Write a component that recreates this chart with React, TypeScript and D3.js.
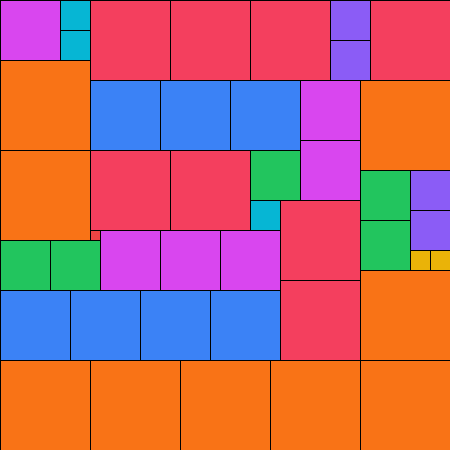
import React, { useEffect, useRef } from "react";
import * as d3 from "d3";

// grid units (1 unit = 10px), one entry per square
const tileX = [0, 0, 36, 36, 0, 9, 18, 27, 36, 9, 17, 25, 37, 9, 17, 28, 28, 9, 16, 23, 0, 7, 14, 21, 0, 30, 30, 10, 16, 22, 25, 36, 36, 0, 5, 33, 33, 41, 41, 6, 6, 25, 41, 43, 9];
const tileY = [6, 15, 8, 27, 36, 36, 36, 36, 36, 0, 0, 0, 0, 15, 15, 20, 28, 8, 8, 8, 29, 29, 29, 29, 0, 8, 14, 23, 23, 23, 15, 17, 22, 24, 24, 0, 4, 17, 21, 0, 3, 20, 25, 25, 23];
const tileSize = [9, 9, 9, 9, 9, 9, 9, 9, 9, 8, 8, 8, 8, 8, 8, 8, 8, 7, 7, 7, 7, 7, 7, 7, 6, 6, 6, 6, 6, 6, 5, 5, 5, 5, 5, 4, 4, 4, 4, 3, 3, 3, 2, 2, 1];

const sizes = [9, 8, 7, 6, 5, 4, 3, 2, 1];
const colors = ["#f97316", "#f43f5e", "#3b82f6", "#d946ef", "#22c55e", "#8b5cf6", "#06b6d4", "#eab308", "#ef4444"];

const App = () => {
  const svgRef = useRef<SVGSVGElement>(null);
  const width = 450;
  const height = 450;

  useEffect(() => {
    const svg = d3.select(svgRef.current);
    svg.selectAll("*").remove();

    const x = d3.scaleLinear().domain([0, 45]).range([0, width]);
    const y = d3.scaleLinear().domain([0, 45]).range([0, height]);
    const color = d3.scaleOrdinal<number, string>().domain(sizes).range(colors);

    const tiles = tileSize.map((s, i) => ({ x: tileX[i], y: tileY[i], s }));

    svg
      .append("g")
      .selectAll("rect")
      .data(tiles)
      .enter()
      .append("rect")
      .attr("x", (d) => x(d.x))
      .attr("y", (d) => y(d.y))
      .attr("width", (d) => x(d.x + d.s) - x(d.x))
      .attr("height", (d) => y(d.y + d.s) - y(d.y))
      .attr("fill", (d) => color(d.s))
      .attr("stroke", "#000")
      .attr("stroke-width", 1)
      .attr("shape-rendering", "crispEdges");
  }, []);

  return (
    <div style={{ position: "fixed", left: 0, top: 0, width, height, background: "#fff" }}>
      <svg ref={svgRef} width={width} height={height} style={{ display: "block" }}></svg>
    </div>
  );
};

export default App;
